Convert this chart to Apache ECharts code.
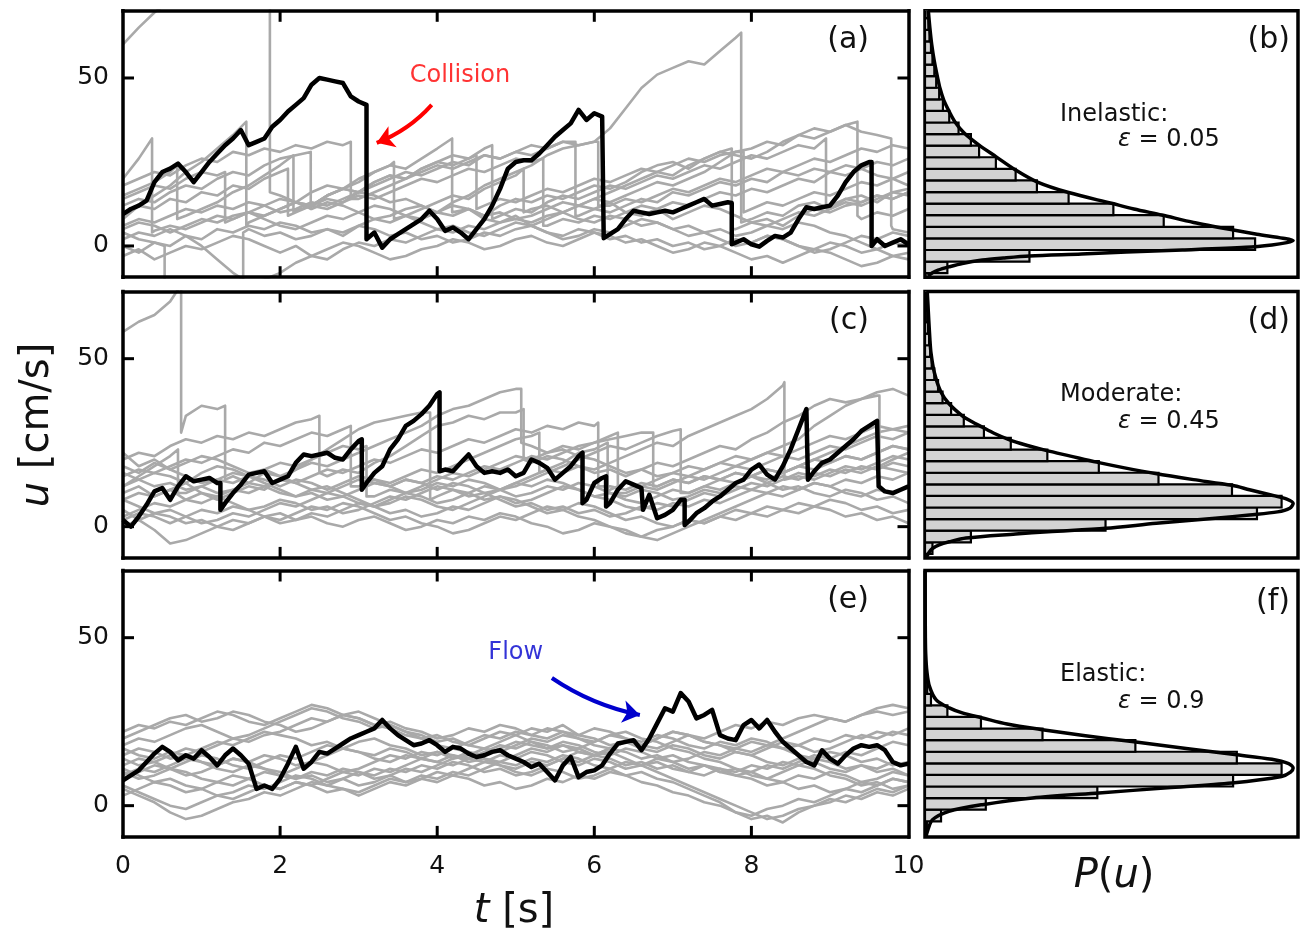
<!DOCTYPE html>
<html>
<head>
<meta charset="utf-8">
<script src="https://cdn.jsdelivr.net/npm/echarts@6/dist/echarts.min.js"></script>
<style>
  html, body { margin: 0; padding: 0; background: #fff; }
  #chart { width: 1301px; height: 935px; }
</style>
</head>
<body>
<div id="chart"></div>
<script>
// ---------------------------------------------------------------------------
// Velocity traces u(t) [cm/s]. Plain numbers are samples on a regular time
// step; a triplet [t, before, after] is an instantaneous jump (a collision).
// ---------------------------------------------------------------------------
const BLACK_STEP = 0.1;   // s, highlighted particle
const GREY_STEP = 0.2;    // s, other particles

// (a) inelastic, highlighted particle
const blackA = [
  9.5, 11, 12, 13.5, 19, 22, 23, 24.5, 22, 19,
  22, 25, 27.5, 30, 32, 34.5, 30, 31, 32, 35.5,
  37.5, 40, 42, 44, 48, 50, 49.5, 49, 48.5, 44.5,
  43, 42, [3.1, 42, 2], 4, -0.5, 2, 3.5, 5, 6.5, 8, 10.5,
  8, 4.5, 5.5, 4, 2, 5, 8, 12, 17, 23,
  25, 25.5, 25.5, 27.5, 30, 32.5, 34.5, 36.5, 40.5, 37.5,
  39.5, 38.5, [6.12, 38.5, 2.3], 3.5, 5, 8, 10.5, 10, 9.5, 10, 10.5,
  10, 11, 12, 13, 14, 12, 12.5, 13, [7.75, 12.8, 0.5], 1, 2,
  0.5, -0.2, 1.5, 3, 2.5, 4, 8, 11.5, 11, 11.5,
  12, 15, 19, 22, 24, 25, [9.53, 25, 0], 2, 0, 1, 2,
  0.5
];

// (c) moderate, highlighted particle
const blackC = [
  2, 0, 3, 6.5, 10.5, 11.5, 8, 12, 15, 13.5,
  14, 14.5, 13, [1.24, 13, 5], 7, 10, 12.5, 15.5, 16, 16.5, 13,
  14, 15, 19, 21.5, 21, 21.5, 22, 20.5, 20, 23,
  25.5, [3.04, 26, 11], 13, 16, 18, 23, 26, 30, 31.5, 33.5, 36,
  39.5, [4.03, 40, 16.5], 17, 16.5, 19, 21.5, 18, 16, 16.5, 16, 17,
  15, 16, 20, 19, 17.5, 14, 16, 18, 21, [5.85, 22, 7], 8,
  13, 14.5, [6.15, 15, 6], 7, 11, 13.5, 12.5, 11.5, [6.62, 11.5, 5], 9.5, 2.5, 3.5,
  5, 8, [7.15, 8, 0.5], 1.5, 4, 5.5, 7.5, 9, 11, 13, 14,
  17, 18.5, 15.5, 14, 18, 23, 29, 35, [8.72, 35, 14], 16.5, 19,
  20, 22, 24, 26, 28.5, 30, 31.5, [9.62, 31.5, 12], 10.5, 10, 11,
  12
];

// (e) elastic, highlighted particle
const blackE = [
  7.5, 9, 10.5, 13, 15.5, 17.5, 16, 13.5, 15, 14,
  16.5, 14.5, 12, 15, 17, 15, 12.5, 5, 6, 5,
  8, 12.5, 17.5, 11, 13, 16, 15.5, 17, 18.5, 20,
  21, 22, 23, 25.5, 23, 21, 19.5, 18, 18.5, 19.5,
  18, 16, 17.5, 17, 15.5, 14.5, 15, 16, 16.5, 15,
  14, 13, 11.5, 12.5, 10, 7.5, 12, 14.5, 8.5, 10,
  10.5, 12, 15.5, 18.5, 19, 19.5, 16.5, 20, 24.5, 29,
  28, 33.5, 31, 26, 27, 28.5, 21, 20, 19.5, 24,
  25.5, 23, 25.5, 22, 19, 17, 15, 13, 12, 16.5,
  14, 12.5, 15, 17, 18, 17.5, 18, 16.5, 13, 12,
  12.5
];

// (a) other particles
const greyA1 = [60, 65, 69.5, 73, 75, 78, 80, 82, 84, 86, [1.87, 87, 16], 15, 13, 11, 13, 12, 10, 8, 9, 11, 12, 10, 13, 15, 18, 20, 22, 24, 27, 29, 30, 31, 35, 41, 47, 51, 53, 55, 54, 58, 62, [7.87, 63.5, 7], 8, 10, 9, 12, 13, 11, 14, 15, 13, 16, 17];
const greyA2 = [20, 26, [0.37, 32, 4], 4.5, 6, 5, 7, 9, 8, 10, 12, 14, 13, 16, 18, 17, 20, 22, 24, 23, 26, 29, [4.19, 32, 10], 10.5, 11, 9, 12, 14, 13, 15, 14, 16, 18, 17, 19, 22, 24, 25, 23, 26, 28, 27, 26, 28, 31, 33, 35, 34, 36, 34, 33, [9.78, 32, 6], 5, 4];
const greyA3 = [4, 2, 1, [0.53, 0, -14], -14, -13, -12, -12, -11, [1.53, -11, 4], 5, 3, 4, 2, 3, 5, 4, 6, 5, 3, 4, 2, 3, 1, 2, 4, 3, 5, 6, 4, 3, 5, 4, 2, 3, 1, 2, 0, 1, -1, 0, 2, 1, 3, 2, 0, -1, 1, 0, -2, -1, 1, 0];
const greyA4 = [2, 4, 3, 5, 3, 0, -4, -8, -11, -10, -8, -5, -3, -4, -1, 1, 0, 2, 1, 3, 5, 4, 6, 5, 7, 8, 7, 9, 10, 8, 7, 9, 8, 6, 7, 5, 6, 4, 5, 3, 4, 6, 5, 7, 6, 4, 3, 1, -1, -3, -4];
const greyA5 = [15, 17, 19, 22, [0.69, 24, 8], 9, 11, 13, 16, 18, 21, 24, [2.17, 27, 10], 10.5, 12, 15, 17, 19, 22, 24, [3.45, 25, 8], 9, 11, 13, 15, 14, 17, 19, 21, [5.1, 23, 10], 11, 12, 10, 12, 14, 13, 15, 17, 19, 18, 20, 22, 25, 28, 29, 31, 30, 33, 32, 34, 36, [9.35, 37, 9], 8, 10, 9, 11];
const greyA6 = [0, -2, 1, 0, 3, 2, 5, 4, 6, 5, 7, 6, 4, 5, 3, 6, 8, 7, 9, 8, 10, 9, 11, 8, 7, 9, 6, 8, 10, 12, 11, 13, 10, 9, 11, 8, 10, 12, 11, 9, 7, 8, 6, 9, 11, 10, 12, 13, 15, 14, 16];
const greyA7 = [8, 12, 15, 18, 22, 25, 29, 33, [1.57, 37, 6], 7, 9, 11, 13, 12, 15, 17, 16, 19, 21, 20, 23, 25, 27, 26, 29, [4.7, 30, 8], 9, 11, 10, 13, 15, 14, 16, 18, 17, 19, 21, 20, 22, 24, 23, 25, 27, 26, 28, 30, 29, [8.95, 32, 12], 12, 14, 13, 15, 14, 16];
const greyA8 = [-3, -1, -4, -2, 0, -1, 1, 3, 2, 0, -2, 0, -3, -1, 1, 0, -2, -4, -3, -1, 0, 2, 1, -1, 0, 2, 3, 1, 0, 2, 4, 3, 1, 2, 0, -2, -1, 1, 0, -2, -4, -3, -5, -3, -1, -2, -4, -6, -5, -3, -2];
const greyA9 = [12, 14, 13, 16, 18, 17, 20, 22, 21, 24, 26, 27, [2.39, 28, 11], 12, 14, 13, 16, 18, 20, 22, 21, 23, 25, 24, 27, 26, 28, 30, 29, 31, [5.76, 31, 9], 9, 11, 10, 12, 14, 13, 16, 15, 17, 19, 18, 20, 19, 22, 21, 23, 22, 24, 23, 21, 20, 18];
const greyA10 = [6, 8, 7, 9, 11, 10, 12, 11, 13, 12, 10, 11, 13, 12, 14, 16, 15, 13, 14, 12, 10, 12, 11, 9, 10, 8, 9, 11, 13, 12, 14, 16, 18, 20, 22, 21, 24, 26, 28, [7.75, 29, 5], 5, 7, 6, 8, 10, 9, 11, 13, 12, 14, 16, 15];
const greyA11 = [18, 20, 22, 21, 24, 26, 25, 28, 27, 29, 28, 30, 29, 31, 30, [2.9, 31, 14], 14, 16, 18, 20, 22, 24, 23, 25, 27, 26, 28, 27, 29, 31, 30, 31, [6.05, 31, 12], 12, 14, 13, 15, 17, 16, 18, 20, 19, 21, 23, 22, 24, 26, 25, 27, 29, 28, 30, 29];
const greyA12 = [10, 12, 11, 14, 13, 16, 15, 18, 17, 20, 22, [2.1, 23, 9], 10, 12, 11, 13, 15, 14, 16, 18, 20, 19, 21, 23, 22, 24, 26, 25, [5.35, 26, 6], 6, 8, 7, 9, 8, 10, 12, 11, 13, 12, 14, 16, 15, 17, 16, 18, 20, 19, 22, 21, 23, 25, 24, 26];
const greyA13 = [5, 7, 6, 4, 6, 8, 7, 9, 10, 8, 6, 5, 7, 9, 8, 10, 12, 11, 9, 7, 5, 6, 4, 3, 5, 7, 6, 4, 2, 3, 5, 4, 6, 8, 7, 5, 3, 4, 2, 0, 1, 3, 2, 0, -2, -1, 1, 3, 2, 4, 3];
const greyA14 = [14, 16, 18, 17, 20, 22, 21, [1.3, 22, 7], 8, 10, 9, 11, 13, 12, 15, 17, 16, 19, 21, 20, 23, 25, 24, 26, [4.5, 27, 11], 12, 14, 13, 15, 17, 16, 18, 20, 19, 21, 23, 22, 24, 26, 25, 27, 28, [7.9, 28, 10], 11, 13, 12, 14, 16, 15, 17, 19, 18, 20, 22];

// (c) other particles
const greyC1 = [58, 61, 63, 67, [0.74, 72, 28], 33, 36, 35, [1.3, 36, 14], 15, 13, 16, 15, 17, 19, 18, 20, 22, 24, 26, 28, 30, 33, 35, 36, 38, 40, 41, [5.07, 41, 25], 24, 22, 23, 21, 20, 18, 16, 17, 15, 16, 18, 17, 19, 21, 20, 22, 24, 26, 30, 33, 36, 38, 40, 41, 39];
const greyC2 = [20, 22, 21, 24, 26, 25, 27, 26, 28, 27, 29, 31, 32, [2.5, 33, 16], 15, 17, 16, 19, 21, 24, 27, 30, 31, 33, 32, 34, 34, [5.1, 35, 20], 19, 21, 20, 18, 16, 17, 15, 17, 19, 18, 20, 22, 24, 23, 26, 28, 31, 33, 36, 38, 37, 38, 39, [9.63, 39, 18], 20, 22];
const greyC3 = [5, 2, -1, -5, -4, -2, 0, 2, 1, 3, 4, 2, 3, 1, 0, 2, 3, 1, -1, 0, 2, 1, 3, 2, 4, 3, 1, 0, -2, -1, 1, 0, -2, -3, -1, 0, 2, 1, 3, 2, 4, 3, 5, 4, 6, 5, 3, 4, 2, 3, 1];
const greyC4 = [10, 12, 9, 11, 13, 10, 8, 10, 12, 11, 14, 17, 20, 23, 26, 29, 31, 32, 33, 34, [3.91, 34, 8], 9, 11, 10, 8, 9, 7, 8, 10, 12, 11, 9, 10, 8, 7, 9, 11, 10, 12, 14, 13, 15, 14, 16, 18, 17, 19, 21, 20, 22, 24, 23];
const greyC5 = [15, 17, 16, 18, 20, 19, 21, 23, 22, 25, 24, 26, 28, 27, 29, [2.9, 30, 12], 12, 14, 13, 15, 17, 16, 18, 20, 22, 24, 26, 27, [5.3, 28, 16], 17, 16, 18, 17, 19, 21, 23, 25, 24, 27, 29, 31, 33, 35, 38, 42, [8.42, 43, 14], 15, 14, 16, 18, 17, 19, 21, 20];
const greyC6 = [3, 5, 7, 6, 8, 10, 9, 7, 5, 6, 8, 7, 5, 6, 4, 5, 7, 9, 8, 10, 12, 11, 9, 10, 8, 6, 7, 5, 6, 4, 5, 3, 4, 6, 5, 7, 6, 8, 7, 9, 11, 10, 12, 11, 13, 12, 14, 13, 15, 14, 16];
const greyC7 = [22, 18, 20, 17, 19, 21, 20, 18, 16, 17, 15, 13, 11, 12, 10, 8, 6, 7, 9, 8, 6, 5, 7, 9, 11, 13, 15, 17, 19, 22, 23, [6.17, 25, 10], 11, 13, 12, 14, 16, 15, 17, 19, 18, 20, 22, 21, 23, 25, 27, 26, 28, 30, 29, 28];
const greyC8 = [8, 6, 4, 5, 3, 1, 2, 4, 3, 5, 7, 6, 8, 10, 9, 11, 13, 12, 14, 13, 15, 14, 16, 18, 17, 19, 21, 20, 22, 24, 25, 26, 27, 28, [6.75, 28, 12], 12, 14, 13, 15, 14, 16, 15, 13, 11, 12, 10, 9, 11, 10, 8, 9, 7];
const greyC9 = [0, 2, 4, 3, 1, 2, 0, -1, 1, 3, 2, 4, 6, 5, 7, 6, 4, 2, 3, 1, 0, -2, -1, 1, 3, 2, 4, 6, 5, 3, 2, 0, -1, -3, -4, -2, 0, 2, 4, 6, 8, 10, 9, 11, 13, 12, 10, 9, 11, 10, 12];
const greyC10 = [12, 14, 16, 15, 13, 16, 18, 17, 15, 14, 12, 14, 13, 11, 13, 15, 14, 12, 10, 11, 13, 12, 14, 13, 11, 12, 14, 16, 18, 20, 22, 24, 23, 25, 27, 28.5, [7.1, 29, 10], 10, 12, 11, 13, 15, 17, 16, 18, 20, 22, 24, 26, 28, 29, 30];
const greyC11 = [18, 16, 19, 17, 15, 13, 14, 16, 15, 13, 11, 9, 10, 8, 9, 7, 6, 8, 10, 9, 7, 8, 10, 12, 11, 13, 12, 14, 13, 11, 9, 8, 6, 5, 7, 6, 8, 10, 9, 11, 13, 12, 14, 16, 15, 17, 16, 18, 17, 19, 18];
const greyC12 = [8, 10, 9, 11, 8, 7, 9, 11, 10, 12, 14, 13, 15, 17, 16, 18, 20, 19, 21, 23, 22, 24, 26, 25, 27, 29, 28, 30, 29, 31, 30, [6.05, 31, 12], 12, 11, 13, 12, 14, 13, 15, 14, 16, 15, 17, 16, 18, 20, 19, 21, 20, 22, 24, 23];
const greyC13 = [2, 4, 3, 1, 3, 5, 4, 6, 5, 3, 1, 2, 4, 3, 5, 7, 6, 4, 5, 3, 4, 6, 5, 7, 9, 8, 6, 4, 5, 7, 6, 4, 2, 3, 1, 0, 2, 1, 3, 5, 4, 6, 5, 7, 6, 8, 7, 5, 6, 4, 5];
const greyC14 = [16, 14, 12, 13, 11, 12, 10, 11, 13, 12, 10, 9, 11, 10, 12, 14, 13, 12, 14, 13, 11, 13, 12, 10, 11, 9, 10, 12, 11, 13, 12, 10, 9, 11, 10, 8, 9, 11, 10, 12, 11, 13, 15, 14, 16, 15, 17, 16, 18, 17, 16];
const greyC15 = [12, 15, 18, 21, [0.7, 23, 10], 10, 12, 14, 13, 15, 17, 19, 18, 20, 22, 24, 23, [3.1, 24, 9], 9, 11, 10, 12, 14, 16, 15, 17, 19, 21, 20, 22, 24, 23, 25, 27, [6.3, 28, 10], 10, 12, 11, 13, 15, 14, 16, 18, 17, 19, 21, 20, 22, 24, 23, 25, 27, 26, 28];

// (e) other particles
const greyE1 = [20, 22, 24, 26, 27, 25, 26, 28, 27, 25, 24, 22, 23, 25, 27, 28, 26, 24, 22, 20, 21, 19, 18, 20, 22, 21, 19, 17, 18, 16, 15, 17, 16, 14, 15, 13, 14, 16, 15, 17, 16, 18, 17, 15, 14, 16, 15, 13, 14, 12, 13];
const greyE2 = [12, 14, 13, 15, 17, 16, 18, 20, 19, 21, 22, 24, 26, 25, 27, 26, 24, 23, 21, 20, 18, 17, 19, 21, 20, 22, 21, 23, 22, 20, 19, 21, 20, 18, 17, 19, 21, 20, 22, 24, 23, 25, 24, 26, 27, 26, 25, 27, 29, 30, 29];
const greyE3 = [5, 3, 1, -2, -4, -3, -1, 1, 2, 4, 3, 5, 7, 6, 8, 10, 9, 11, 10, 12, 11, 13, 12, 10, 11, 9, 10, 12, 14, 13, 15, 14, 12, 13, 11, 12, 10, 9, 11, 10, 12, 11, 13, 12, 14, 13, 11, 12, 10, 11, 9];
const greyE4 = [15, 17, 16, 14, 15, 17, 19, 18, 20, 22, 21, 20, 18, 19, 17, 16, 15, 17, 16, 14, 13, 15, 14, 16, 18, 17, 19, 18, 16, 17, 19, 21, 22, 20, 19, 17, 16, 14, 13, 11, 10, 8, 7, 5, 6, 4, 5, 7, 6, 8, 7];
const greyE5 = [10, 8, 9, 11, 10, 8, 7, 9, 8, 6, 5, 7, 6, 8, 10, 9, 11, 10, 12, 14, 13, 12, 14, 13, 15, 14, 16, 15, 13, 12, 14, 13, 11, 12, 10, 8, 6, 4, 2, 0, -2, -4, -3, -1, 0, 2, 1, 3, 5, 4, 6];
const greyE6 = [18, 20, 19, 21, 23, 24, 22, 20, 21, 23, 25, 27, 29, 28, 26, 25, 23, 24, 22, 21, 19, 20, 18, 17, 19, 21, 23, 22, 24, 21, 20, 18, 19, 17, 16, 18, 17, 15, 14, 16, 15, 17, 19, 18, 20, 19, 21, 20, 22, 21, 23];
const greyE7 = [8, 10, 12, 11, 9, 10, 12, 14, 13, 11, 10, 8, 9, 7, 8, 6, 7, 9, 11, 10, 12, 14, 16, 15, 17, 19, 18, 17, 19, 18, 16, 15, 17, 16, 14, 15, 13, 12, 10, 9, 8, 6, 7, 9, 8, 10, 9, 7, 8, 10, 9];
const greyE8 = [3, 5, 7, 6, 4, 5, 3, 4, 6, 5, 7, 9, 8, 6, 5, 4, 6, 8, 7, 9, 8, 10, 9, 11, 13, 12, 14, 13, 15, 14, 12, 11, 9, 10, 8, 7, 5, 3, 1, -2, -4, -3, -5, -2, 0, 1, 3, 2, 4, 3, 5];
const greyE9 = [14, 12, 13, 11, 13, 15, 14, 12, 11, 13, 15, 14, 16, 18, 17, 19, 20, 18, 17, 15, 16, 14, 15, 17, 16, 18, 20, 19, 21, 20, 18, 17, 19, 18, 20, 22, 21, 19, 18, 17, 19, 18, 20, 22, 24, 26, 25, 27, 28, 27, 28];
const greyE10 = [11, 9, 7, 8, 6, 5, 7, 6, 8, 10, 9, 11, 13, 12, 10, 11, 13, 15, 14, 16, 15, 17, 16, 14, 13, 15, 17, 16, 18, 17, 15, 16, 14, 12, 13, 11, 10, 12, 11, 9, 10, 12, 11, 13, 15, 14, 16, 15, 17, 19, 18];
const greyE11 = [22, 24, 23, 25, 24, 26, 28, 27, 25, 24, 26, 28, 30, 29, 27, 26, 24, 25, 23, 22, 20, 21, 23, 22, 24, 23, 21, 20, 22, 21, 23, 22, 20, 19, 21, 20, 18, 17, 19, 18, 20, 19, 17, 18, 16, 17, 19, 21, 20, 22, 21];
const greyE12 = [6, 4, 2, 0, -1, 1, 3, 2, 4, 6, 5, 7, 6, 4, 5, 3, 5, 7, 6, 8, 7, 9, 8, 6, 7, 5, 6, 8, 7, 9, 8, 10, 9, 7, 6, 4, 3, 1, 0, -2, -3, -1, 0, 2, 1, 3, 5, 4, 6, 8, 7];
const greyE13 = [17, 15, 14, 16, 15, 13, 12, 14, 13, 15, 14, 12, 13, 15, 17, 16, 14, 13, 15, 14, 16, 15, 13, 14, 12, 11, 13, 12, 14, 16, 15, 17, 19, 18, 20, 22, 21, 19, 18, 16, 15, 13, 12, 14, 13, 11, 10, 12, 11, 13, 12];
const greyE14 = [9, 11, 10, 12, 14, 13, 11, 10, 12, 11, 9, 8, 10, 9, 11, 10, 8, 9, 7, 8, 10, 9, 11, 13, 12, 10, 9, 11, 10, 8, 9, 11, 13, 12, 14, 13, 11, 12, 10, 11, 9, 8, 10, 12, 11, 9, 8, 6, 7, 5, 6];

// ---------------------------------------------------------------------------
// Velocity distributions P(u), each scaled to its own panel width.
// ---------------------------------------------------------------------------
const binEdges = [-8.1, -4.65, -1.2, 2.25, 5.7, 9.15, 12.6, 16.05, 19.5, 22.95, 26.4, 29.85,
  33.3, 36.75, 40.2, 43.65, 47.1, 50.55, 54, 57.45, 60.9, 64.35, 67.8, 71.25];

const histB = [0.06, 0.28, 0.885, 0.826, 0.64, 0.505, 0.385, 0.30, 0.243, 0.19, 0.145, 0.123,
  0.09, 0.065, 0.048, 0.038, 0.03, 0.025, 0.02, 0.016, 0.012, 0.009, 0.007];
const histD = [0.02, 0.123, 0.484, 0.89, 0.956, 0.823, 0.626, 0.466, 0.328, 0.23, 0.158, 0.104,
  0.07, 0.047, 0.035, 0.025, 0.018, 0.014, 0.011, 0.008, 0.006, 0.005, 0.004];
const histF = [0.005, 0.043, 0.163, 0.462, 0.826, 0.956, 0.836, 0.564, 0.315, 0.15, 0.06, 0.016,
  0.006, 0.003, 0.0015, 0, 0, 0, 0, 0, 0, 0, 0];

// fitted curves as [u, P]
const curveB = [[-9, 0.008], [-8, 0.02], [-7.2, 0.035], [-6.2, 0.065], [-5.2, 0.10], [-4.2, 0.154],
  [-3.6, 0.21], [-3.0, 0.28], [-2.4, 0.42], [-1.8, 0.54], [-1.2, 0.69], [-0.4, 0.86], [0.3, 0.93],
  [1.0, 0.97], [1.6, 0.987], [2.3, 0.96], [3.5, 0.89], [4.8, 0.823], [7, 0.72], [9.2, 0.635],
  [11, 0.56], [12.7, 0.50], [15.9, 0.385], [19.1, 0.30], [22.6, 0.243], [26.6, 0.19], [30, 0.145],
  [33.6, 0.105], [37, 0.08], [40, 0.065], [43.5, 0.05], [47, 0.04], [50, 0.034], [55, 0.025],
  [60, 0.018], [65, 0.013], [70, 0.009]];
const curveD = [[-9, 0.004], [-7.5, 0.012], [-6.5, 0.02], [-5.4, 0.038], [-4.5, 0.065], [-3.4, 0.11],
  [-2.2, 0.243], [-1.5, 0.33], [-0.5, 0.484], [1, 0.62], [2.5, 0.778], [3.5, 0.87], [4.4, 0.945],
  [5.5, 0.978], [6.9, 0.987], [8.2, 0.97], [9.5, 0.925], [11, 0.87], [12.3, 0.823], [14, 0.72],
  [15.8, 0.618], [17.5, 0.535], [19.2, 0.46], [21, 0.39], [22.7, 0.324], [24.3, 0.27], [25.9, 0.225],
  [27.8, 0.185], [29.6, 0.154], [31.3, 0.125], [33, 0.10], [36.5, 0.065], [40, 0.043], [45.9, 0.025],
  [51.8, 0.016], [56, 0.013], [61.7, 0.01], [66, 0.008], [70, 0.006]];
const curveF = [[-9, 0.003], [-7.1, 0.008], [-4.2, 0.02], [-1.7, 0.064], [0.3, 0.154], [2.3, 0.288],
  [3.8, 0.466], [5.3, 0.65], [6.75, 0.823], [8.7, 0.956], [10, 0.98], [11.2, 0.987], [12.5, 0.975],
  [13.8, 0.93], [15.2, 0.83], [17, 0.70], [19.1, 0.555], [20.8, 0.43], [22.6, 0.315], [24.3, 0.22],
  [26.1, 0.154], [27.6, 0.10], [29.1, 0.065], [31.5, 0.03], [35.5, 0.012], [40, 0.005], [45, 0.002],
  [50, 0.001], [60, 0.0005], [70, 0.0003]];

// annotations (data coordinates of panel a / e)
const collisionArrow = [[3.93, 42.0], [3.23, 30.7]];
const collisionNote = [4.29, 50.6];
const flowArrow = [[5.46, 38.0], [6.58, 27.0]];
const flowNote = [5.0, 45.4];

const tTicks = [2, 4, 6, 8];
const uTicks = [0, 50];
const panelNotes = [
  ['Inelastic:', '0.05'],
  ['Moderate:', '0.45'],
  ['Elastic:', '0.9']
];

// ---------------------------------------------------------------------------
const FONT = 'DejaVu Sans';
const T_MIN = 0, T_MAX = 10;
const U_MIN = -9.3, U_MAX = 70;
const INK = '#111';
const TICK_LEN = 11, TICK_W = 3;

function trace(list, step) {
  const pts = [];
  let k = 0;
  for (const e of list) {
    if (Array.isArray(e)) {
      pts.push([e[0], e[1]], [e[0], e[2]]);
    } else {
      pts.push([+(k * step).toFixed(3), e]);
      k++;
    }
  }
  return pts;
}

const rowTops = [10.8, 291.5, 570.5];
const rowH = 266.4;
const LEFT_X = 123, LEFT_W = 785.5;
const RIGHT_X = 925, RIGHT_W = 373;

const grids = [];
rowTops.forEach(t => grids.push({ left: LEFT_X, top: t, width: LEFT_W, height: rowH, outerBoundsMode: 'none' }));
rowTops.forEach(t => grids.push({
  left: RIGHT_X, top: t, width: RIGHT_W, height: rowH, outerBoundsMode: 'none',
  show: true, borderColor: '#000', borderWidth: 3.5, backgroundColor: 'transparent'
}));

const frameLine = () => ({ show: true, onZero: false, lineStyle: { color: '#000', width: 3.5, cap: 'square' } });

const xAxes = [], yAxes = [];
// left panels: bottom x axes (0..2)
for (let i = 0; i < 3; i++) {
  xAxes.push({
    type: 'value', gridIndex: i, min: T_MIN, max: T_MAX, interval: 2, position: 'bottom', z: 10,
    axisLine: frameLine(), axisTick: { show: false },
    axisLabel: { show: i === 2, fontSize: 25, color: INK, fontFamily: FONT, margin: 17 },
    splitLine: { show: false }
  });
}
// left panels: top x axes (3..5)
for (let i = 0; i < 3; i++) {
  xAxes.push({
    type: 'value', gridIndex: i, min: T_MIN, max: T_MAX, interval: 2, position: 'top', z: 10,
    axisLine: frameLine(), axisTick: { show: false },
    axisLabel: { show: false }, splitLine: { show: false }
  });
}
// right panels: P axes (6..8)
for (let i = 0; i < 3; i++) {
  xAxes.push({ type: 'value', gridIndex: 3 + i, min: 0, max: 1, show: false });
}
// left panels: left y axes (0..2)
for (let i = 0; i < 3; i++) {
  yAxes.push({
    type: 'value', gridIndex: i, min: U_MIN, max: U_MAX, position: 'left', z: 10,
    axisLine: frameLine(), axisTick: { show: false },
    axisLabel: { show: true, fontSize: 25, color: INK, fontFamily: FONT, margin: 14, customValues: uTicks },
    splitLine: { show: false }
  });
}
// left panels: right y axes (3..5)
for (let i = 0; i < 3; i++) {
  yAxes.push({
    type: 'value', gridIndex: i, min: U_MIN, max: U_MAX, position: 'right', z: 10,
    axisLine: frameLine(), axisTick: { show: false },
    axisLabel: { show: false }, splitLine: { show: false }
  });
}
// right panels: u axes (6..8)
for (let i = 0; i < 3; i++) {
  yAxes.push({ type: 'value', gridIndex: 3 + i, min: U_MIN, max: U_MAX, show: false });
}

const series = [];
const greySets = [
  [greyA1, greyA2, greyA3, greyA4, greyA5, greyA6, greyA7, greyA8, greyA9, greyA10, greyA11, greyA12, greyA13, greyA14],
  [greyC1, greyC2, greyC3, greyC4, greyC5, greyC6, greyC7, greyC8, greyC9, greyC10, greyC11, greyC12, greyC13, greyC14, greyC15],
  [greyE1, greyE2, greyE3, greyE4, greyE5, greyE6, greyE7, greyE8, greyE9, greyE10, greyE11, greyE12, greyE13, greyE14]
];
const blacks = [blackA, blackC, blackE];

greySets.forEach((set, i) => {
  set.forEach(tr => series.push({
    type: 'line', xAxisIndex: i, yAxisIndex: i, data: trace(tr, GREY_STEP),
    symbol: 'none', silent: true, z: 2, clip: true,
    lineStyle: { color: '#a9a9a9', width: 2.6, join: 'round' }
  }));
});
const blackSeriesIndex = [];
blacks.forEach((tr, i) => {
  blackSeriesIndex.push(series.length);
  series.push({
    type: 'line', xAxisIndex: i, yAxisIndex: i, data: trace(tr, BLACK_STEP),
    symbol: 'none', silent: true, z: 3, clip: true,
    lineStyle: { color: '#000', width: 4.5, join: 'round' }
  });
});

// time ticks: small bars standing on the bottom edge and hanging from the top edge
for (let i = 0; i < 3; i++) {
  series.push({
    type: 'custom', xAxisIndex: i, yAxisIndex: i, clip: false, silent: true, z: 11,
    data: tTicks.map(t => [t, 0]),
    encode: { x: 0, y: 1 },
    renderItem: (params, api) => {
      const cs = params.coordSys;
      const x = api.coord([api.value(0), 0])[0];
      return { type: 'group', children: [
        { type: 'rect', shape: { x: x - TICK_W / 2, y: cs.y + cs.height - TICK_LEN, width: TICK_W, height: TICK_LEN }, style: { fill: '#000' } },
        { type: 'rect', shape: { x: x - TICK_W / 2, y: cs.y, width: TICK_W, height: TICK_LEN }, style: { fill: '#000' } }
      ] };
    }
  });
}

// histograms and fitted distributions
[histB, histD, histF].forEach((h, i) => {
  series.push({
    type: 'custom', xAxisIndex: 6 + i, yAxisIndex: 6 + i, clip: true, silent: true, z: 2,
    data: h.map((p, k) => [binEdges[k], binEdges[k + 1], p]),
    encode: { x: 2, y: [0, 1] },
    renderItem: (params, api) => {
      const tl = api.coord([0, api.value(1)]);
      const br = api.coord([api.value(2), api.value(0)]);
      return {
        type: 'rect',
        shape: { x: tl[0], y: tl[1], width: br[0] - tl[0], height: br[1] - tl[1] },
        style: { fill: '#d3d3d3', stroke: '#000', lineWidth: 2.2 }
      };
    }
  });
});
[curveB, curveD, curveF].forEach((c, i) => series.push({
  type: 'line', xAxisIndex: 6 + i, yAxisIndex: 6 + i, data: c.map(([u, p]) => [p, u]),
  symbol: 'none', silent: true, z: 4, clip: true, smooth: 0.3,
  lineStyle: { color: '#000', width: 3.5, join: 'round' }
}));

// arrows and their captions
series.push({
  type: 'lines', coordinateSystem: 'cartesian2d', xAxisIndex: 0, yAxisIndex: 0, z: 6, silent: true,
  symbol: ['none', 'arrow'], symbolSize: 17,
  lineStyle: { color: '#ff0000', width: 4, curveness: 0.12, opacity: 1 },
  data: [{ coords: collisionArrow }]
});
series.push({
  type: 'lines', coordinateSystem: 'cartesian2d', xAxisIndex: 2, yAxisIndex: 2, z: 6, silent: true,
  symbol: ['none', 'arrow'], symbolSize: 17,
  lineStyle: { color: '#0000cd', width: 4, curveness: -0.1, opacity: 1 },
  data: [{ coords: flowArrow }]
});
series.push({
  type: 'scatter', xAxisIndex: 0, yAxisIndex: 0, symbolSize: 1, z: 6, silent: true,
  itemStyle: { color: 'rgba(0,0,0,0)' },
  label: { show: true, position: 'inside', formatter: 'Collision', color: '#ff0000', fontSize: 24, fontFamily: FONT },
  data: [collisionNote]
});
series.push({
  type: 'scatter', xAxisIndex: 2, yAxisIndex: 2, symbolSize: 1, z: 6, silent: true,
  itemStyle: { color: 'rgba(0,0,0,0)' },
  label: { show: true, position: 'inside', formatter: 'Flow', color: '#0000cd', fontSize: 24, fontFamily: FONT },
  data: [flowNote]
});

// text: panel letters, regime notes, axis titles
const graphic = [];
const letters = [['(a)', 869, 40], ['(b)', 1290, 40], ['(c)', 869, 321], ['(d)', 1290, 321], ['(e)', 869, 600], ['(f)', 1290, 602]];
letters.forEach(([t, x, y], k) => graphic.push({
  type: 'text', id: 'letter' + k, x, y, z: 20,
  style: { text: t, fontSize: 30, fontFamily: FONT, fill: INK, align: 'right', verticalAlign: 'middle' }
}));
const noteRows = [[115, 140], [395, 422], [675, 702]];
panelNotes.forEach(([name, eps], i) => {
  graphic.push({
    type: 'text', id: 'note' + i, x: 1060, y: noteRows[i][0], z: 20,
    style: { text: name, fontSize: 24, fontFamily: FONT, fill: INK, align: 'left', verticalAlign: 'middle' }
  });
  graphic.push({
    type: 'text', id: 'eps' + i, x: 1118, y: noteRows[i][1], z: 20,
    style: {
      text: '{i|ε} = ' + eps, fontSize: 24, fontFamily: FONT, fill: INK, align: 'left', verticalAlign: 'middle',
      rich: { i: { fontStyle: 'italic', fontSize: 24, fontFamily: FONT, fill: INK } }
    }
  });
});
const titleRich = { i: { fontStyle: 'italic', fontSize: 40, fontFamily: FONT, fill: INK } };
graphic.push({
  type: 'text', id: 'titleU', x: 38, y: 425, rotation: Math.PI / 2, z: 20,
  style: { text: '{i|u} [cm/s]', fontSize: 40, fontFamily: FONT, fill: INK, align: 'center', verticalAlign: 'middle', rich: titleRich }
});
graphic.push({
  type: 'text', id: 'titleT', x: 514, y: 912, z: 20,
  style: { text: '{i|t} [s]', fontSize: 40, fontFamily: FONT, fill: INK, align: 'center', verticalAlign: 'middle', rich: titleRich }
});
graphic.push({
  type: 'text', id: 'titleP', x: 1114, y: 877, z: 20,
  style: { text: '{i|P}({i|u})', fontSize: 40, fontFamily: FONT, fill: INK, align: 'center', verticalAlign: 'middle', rich: titleRich }
});

const chart = echarts.init(document.getElementById('chart'), null, { renderer: 'canvas' });
chart.setOption({
  animation: false,
  backgroundColor: '#fff',
  textStyle: { fontFamily: FONT },
  grid: grids,
  xAxis: xAxes,
  yAxis: yAxes,
  series,
  graphic
});

// velocity ticks on the left and right edges, placed through each panel's scales
const velocityTicks = [];
for (let i = 0; i < 3; i++) {
  uTicks.forEach((u, k) => {
    const pl = chart.convertToPixel({ seriesIndex: blackSeriesIndex[i] }, [T_MIN, u]);
    const pr = chart.convertToPixel({ seriesIndex: blackSeriesIndex[i] }, [T_MAX, u]);
    velocityTicks.push({
      type: 'rect', id: `utl${i}${k}`, z: 100,
      shape: { x: pl[0], y: pl[1] - TICK_W / 2, width: TICK_LEN, height: TICK_W },
      style: { fill: '#000' }
    });
    velocityTicks.push({
      type: 'rect', id: `utr${i}${k}`, z: 100,
      shape: { x: pr[0] - TICK_LEN, y: pr[1] - TICK_W / 2, width: TICK_LEN, height: TICK_W },
      style: { fill: '#000' }
    });
  });
}
chart.setOption({ graphic: graphic.concat(velocityTicks) });
</script>
</body>
</html>
